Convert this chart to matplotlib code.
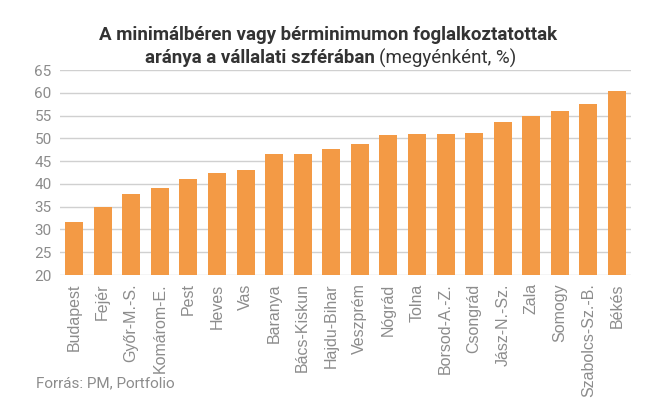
import matplotlib.pyplot as plt

counties = ["Budapest", "Fejér", "Győr-M.-S.", "Komárom-E.", "Pest", "Heves", "Vas",
            "Baranya", "Bács-Kiskun", "Hajdu-Bihar", "Veszprém", "Nógrád", "Tolna",
            "Borsod-A.-Z.", "Csongrád", "Jász-N.-Sz.", "Zala", "Somogy",
            "Szabolcs-Sz.-B.", "Békés"]
shares = [31.6, 35.0, 37.8, 39.1, 41.1, 42.4, 43.1, 46.5, 46.5, 47.6, 48.8, 50.7,
          50.9, 50.9, 51.2, 53.6, 54.9, 56.0, 57.6, 60.4]
y_ticks = list(range(20, 66, 5))

bar_color = "#F39A45"
grey = "#8C8C8C"

fig = plt.figure(figsize=(6.49, 4.17), dpi=100)
ax = fig.add_axes([0.0925, 0.3405, 0.879, 0.4915])

x = range(len(counties))
ax.bar(x, [v - 20 for v in shares], bottom=20, width=0.63, color=bar_color, zorder=3)

ax.set_ylim(20, 65)
ax.set_xlim(-0.49, len(counties) - 0.53)
ax.set_yticks(y_ticks)
ax.set_yticklabels([str(t) for t in y_ticks], fontfamily="Roboto", fontsize=11, color=grey)
ax.set_xticks(list(x))
ax.set_xticklabels(counties, rotation=90, fontfamily="Liberation Sans", fontsize=11.5, color=grey)
ax.tick_params(length=0, pad=6)
ax.grid(axis="y", color="#D0D0D0", linewidth=1, zorder=0)
for s in ax.spines.values():
    s.set_visible(False)

# title, second line mixes bold and regular
fig.text(0.506, 0.916, "A minimálbéren vagy bérminimumon foglalkoztatottak",
         ha="center", va="center", fontfamily="Roboto", fontweight="bold",
         fontsize=13.5, color="#333333")
fig.text(0.578, 0.861, "aránya a vállalati szférában", ha="right", va="center",
         fontfamily="Roboto", fontweight="bold", fontsize=13.5, color="#333333")
fig.text(0.584, 0.861, "(megyénként, %)", ha="left", va="center",
         fontfamily="Roboto", fontsize=13.5, color="#333333")

fig.text(0.0555, 0.082, "Forrás: PM, Portfolio", ha="left", va="center",
         fontfamily="Roboto", fontsize=11, color=grey)

fig.savefig("out.png", dpi=100)
